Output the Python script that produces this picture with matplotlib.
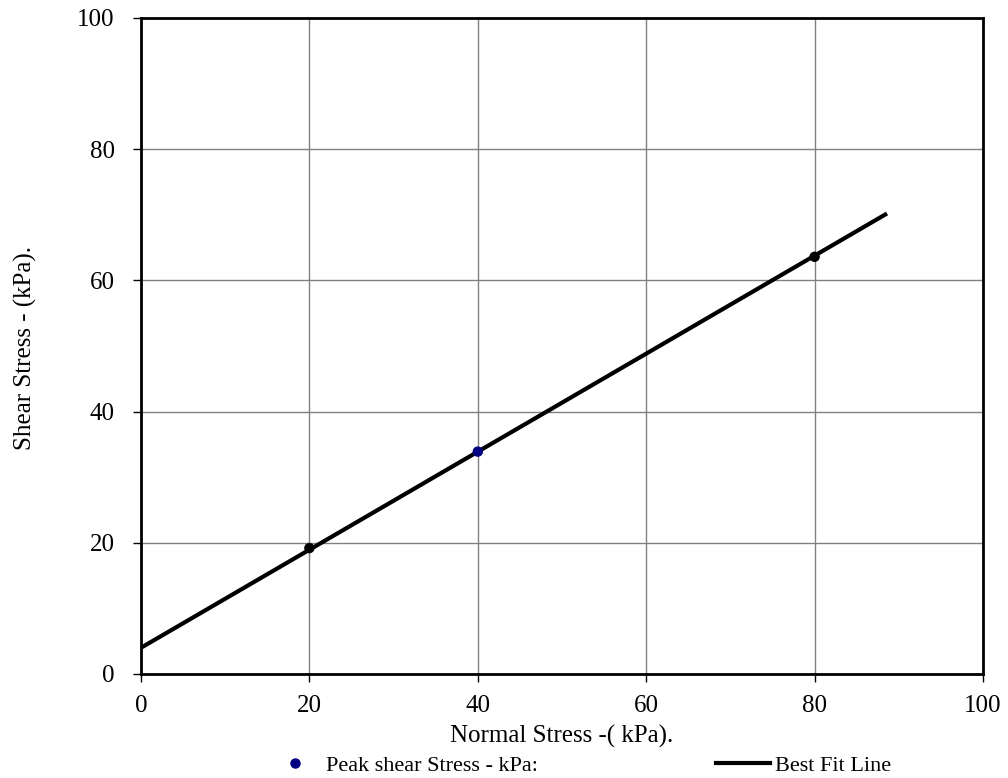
import matplotlib
matplotlib.use("Agg")
import matplotlib.pyplot as plt
from matplotlib.lines import Line2D

plt.rcParams['font.family'] = ['Liberation Serif', 'DejaVu Serif']

# Test results: normal stress vs peak shear stress (kPa)
normal_stress = [20, 40, 80]
peak_shear = [19.2, 33.9, 63.6]
point_colors = ['black', 'navy', 'black']

# Best fit line endpoints (kPa)
fit_x = [0, 88.6]
fit_y = [4.0, 70.2]

x_ticks = [0, 20, 40, 60, 80, 100]
y_ticks = [0, 20, 40, 60, 80, 100]

W, H = 1008, 778
fig = plt.figure(figsize=(W / 100, H / 100), dpi=100)
ax = fig.add_axes([141 / W, 1 - 674 / H, (983 - 141) / W, (674 - 18) / H])

ax.plot(fit_x, fit_y, color='black', lw=3, zorder=3, solid_capstyle='butt')
ax.scatter(normal_stress, peak_shear, s=42, c=point_colors, zorder=4)

ax.set_xlim(0, 100)
ax.set_ylim(0, 100)
ax.set_xticks(x_ticks)
ax.set_yticks(y_ticks)
ax.grid(True, color='#808080', lw=1)
ax.set_axisbelow(True)
for s in ax.spines.values():
    s.set_linewidth(2)
    s.set_color('black')
ax.tick_params(direction='out', length=6, width=1, labelsize=18)
ax.tick_params(axis='x', pad=9)
ax.tick_params(axis='y', pad=13)

fig.text(562 / W, 1 - 736 / H, 'Normal Stress -( kPa).', fontsize=18,
         ha='center', va='center')
fig.text(25 / W, 1 - 348 / H, 'Shear Stress - (kPa).', fontsize=18,
         ha='center', va='center', rotation=90)

handles = [
    Line2D([], [], marker='o', color='navy', ls='none', markersize=6.5),
    Line2D([], [], color='black', lw=3),
]
fig.legend(handles, ['Peak shear Stress - kPa:', 'Best Fit Line'],
           loc='center left', bbox_to_anchor=(268 / W, 1 - 766 / H), ncol=2,
           frameon=False, fontsize=16, columnspacing=8.0, handlelength=2.43,
           handletextpad=0.2, borderpad=0, borderaxespad=0)

fig.savefig('out.png', dpi=100)
